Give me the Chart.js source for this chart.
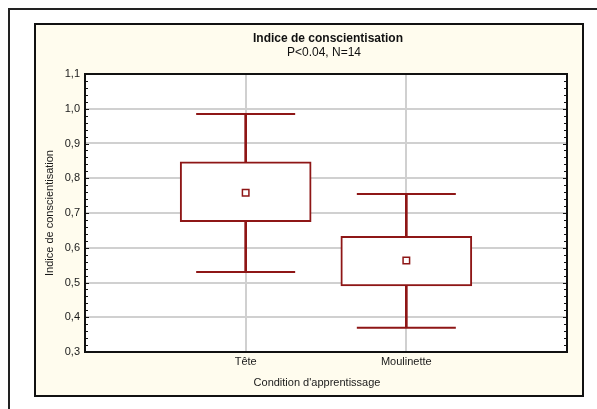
<!DOCTYPE html>
<html lang="fr">
<head>
<meta charset="utf-8">
<title>Indice de conscientisation</title>
<script src="https://cdn.jsdelivr.net/npm/chart.js@4/dist/chart.umd.min.js"></script>
<style>
  html, body { margin: 0; padding: 0; background: #ffffff; }
  #wrap { width: 597px; height: 409px; }
</style>
</head>
<body>
<div id="wrap"><canvas id="chart" width="597" height="409"></canvas></div>
<script>
// Groups and their summary values
const categories = ['Tête', 'Moulinette'];
const whiskerLow = [0.53, 0.37];
const boxLow = [0.675, 0.49];
const means = [0.758, 0.563];
const boxHigh = [0.847, 0.633];
const whiskerHigh = [0.985, 0.755];

// Axis range
const yMin = 0.3;
const yMax = 1.1;
const yStep = 0.1;

const chartTitle = 'Indice de conscientisation';
const chartSubtitle = 'P<0.04, N=14';
const xTitle = "Condition d'apprentissage";
const yTitle = 'Indice de conscientisation';

const RED = '#8e1616';
const FONT = '"Liberation Sans", Arial, Helvetica, sans-serif';

Chart.defaults.font.family = FONT;
Chart.defaults.color = '#1a1a1a';

const xs = categories.map((_, i) => i + 1);

// Page frame, cream panel and white plotting area
const backdrop = {
  id: 'backdrop',
  beforeDraw(chart) {
    const ctx = chart.ctx;
    const a = chart.chartArea;
    ctx.save();
    ctx.fillStyle = '#ffffff';
    ctx.fillRect(0, 0, chart.width, chart.height);
    ctx.strokeStyle = '#222222';
    ctx.lineWidth = 2;
    ctx.beginPath();
    ctx.moveTo(9, chart.height);
    ctx.lineTo(9, 9);
    ctx.lineTo(chart.width, 9);
    ctx.stroke();
    ctx.fillStyle = '#fffcee';
    ctx.fillRect(35, 24, 548, 372);
    ctx.strokeStyle = '#111111';
    ctx.strokeRect(35, 24, 548, 372);
    ctx.fillStyle = '#ffffff';
    ctx.fillRect(a.left, a.top, a.right - a.left, a.bottom - a.top);
    ctx.restore();
  },
  afterDraw(chart) {
    const ctx = chart.ctx;
    const a = chart.chartArea;
    const y = chart.scales.y;
    ctx.save();
    // minor and major ticks on both vertical sides, pointing inward
    ctx.strokeStyle = '#111111';
    ctx.lineWidth = 1;
    ctx.beginPath();
    const n = Math.round((yMax - yMin) / 0.02);
    for (let i = 0; i <= n; i++) {
      const py = Math.round(y.getPixelForValue(yMin + i * 0.02)) + 0.5;
      const len = i % 5 === 0 ? 4 : 3;
      ctx.moveTo(a.left, py);
      ctx.lineTo(a.left + len, py);
      ctx.moveTo(a.right, py);
      ctx.lineTo(a.right - len, py);
    }
    ctx.stroke();
    // plot frame
    ctx.lineWidth = 2;
    ctx.strokeRect(a.left, a.top, a.right - a.left, a.bottom - a.top);
    // title lines and horizontal axis title
    ctx.fillStyle = '#111111';
    ctx.textAlign = 'center';
    ctx.textBaseline = 'middle';
    ctx.font = 'bold 12px ' + FONT;
    ctx.fillText(chartTitle, 328, 39);
    ctx.font = '12px ' + FONT;
    ctx.fillText(chartSubtitle, 324, 53);
    ctx.fillStyle = '#1a1a1a';
    ctx.font = '11px ' + FONT;
    ctx.fillText(xTitle, 317, 383);
    ctx.restore();
  }
};

const chart = new Chart(document.getElementById('chart'), {
  type: 'bar',
  data: {
    datasets: [
      {
        type: 'scatter',
        label: 'Moyenne',
        data: xs.map((x, i) => ({ x, y: means[i] })),
        pointStyle: 'rect',
        pointRadius: 4.6,
        pointBackgroundColor: '#ffffff',
        pointBorderColor: RED,
        pointBorderWidth: 1.5,
        order: 0
      },
      {
        type: 'scatter',
        label: 'Moustaches',
        data: xs.flatMap((x, i) => [{ x, y: whiskerLow[i] }, { x, y: whiskerHigh[i] }]),
        pointStyle: 'line',
        pointRadius: 49.5,
        pointBorderColor: RED,
        pointBorderWidth: 2,
        order: 1
      },
      {
        type: 'bar',
        label: 'Boîte',
        data: xs.map((x, i) => ({ x, y: [boxLow[i], boxHigh[i]] })),
        backgroundColor: '#ffffff',
        borderColor: RED,
        borderWidth: 2,
        borderSkipped: false,
        barThickness: 131,
        grouped: false,
        order: 2
      },
      {
        type: 'bar',
        label: 'Étendue',
        data: xs.map((x, i) => ({ x, y: [whiskerLow[i], whiskerHigh[i]] })),
        backgroundColor: RED,
        borderWidth: 0,
        barThickness: 2,
        grouped: false,
        order: 3
      }
    ]
  },
  plugins: [backdrop],
  options: {
    responsive: false,
    animation: false,
    events: [],
    layout: { autoPadding: false, padding: { top: 74, right: 30, left: 0, bottom: 0 } },
    plugins: {
      legend: { display: false },
      tooltip: { enabled: false },
      title: { display: false }
    },
    scales: {
      x: {
        type: 'linear',
        min: 0,
        max: categories.length + 1,
        offset: false,
        afterFit(scale) { scale.height = 57; },
        grid: { color: '#d0d0d0', lineWidth: 2, drawTicks: false, offset: false },
        border: { display: false },
        ticks: {
          stepSize: 1,
          padding: 3,
          maxRotation: 0,
          autoSkip: false,
          font: { size: 11 },
          color: '#1a1a1a',
          callback: (v) => categories[v - 1] || ''
        }
      },
      y: {
        min: yMin,
        max: yMax,
        afterFit(scale) { scale.width = 85; },
        grid: { color: '#d0d0d0', lineWidth: 2, drawTicks: false },
        border: { display: false },
        ticks: {
          stepSize: yStep,
          padding: 5,
          font: { size: 11 },
          color: '#1a1a1a',
          callback: (v) => v.toFixed(1).replace('.', ',')
        },
        title: {
          display: true,
          text: yTitle,
          font: { size: 11 },
          color: '#1a1a1a',
          padding: { top: 43, bottom: 0 }
        }
      }
    }
  }
});
</script>
</body>
</html>
